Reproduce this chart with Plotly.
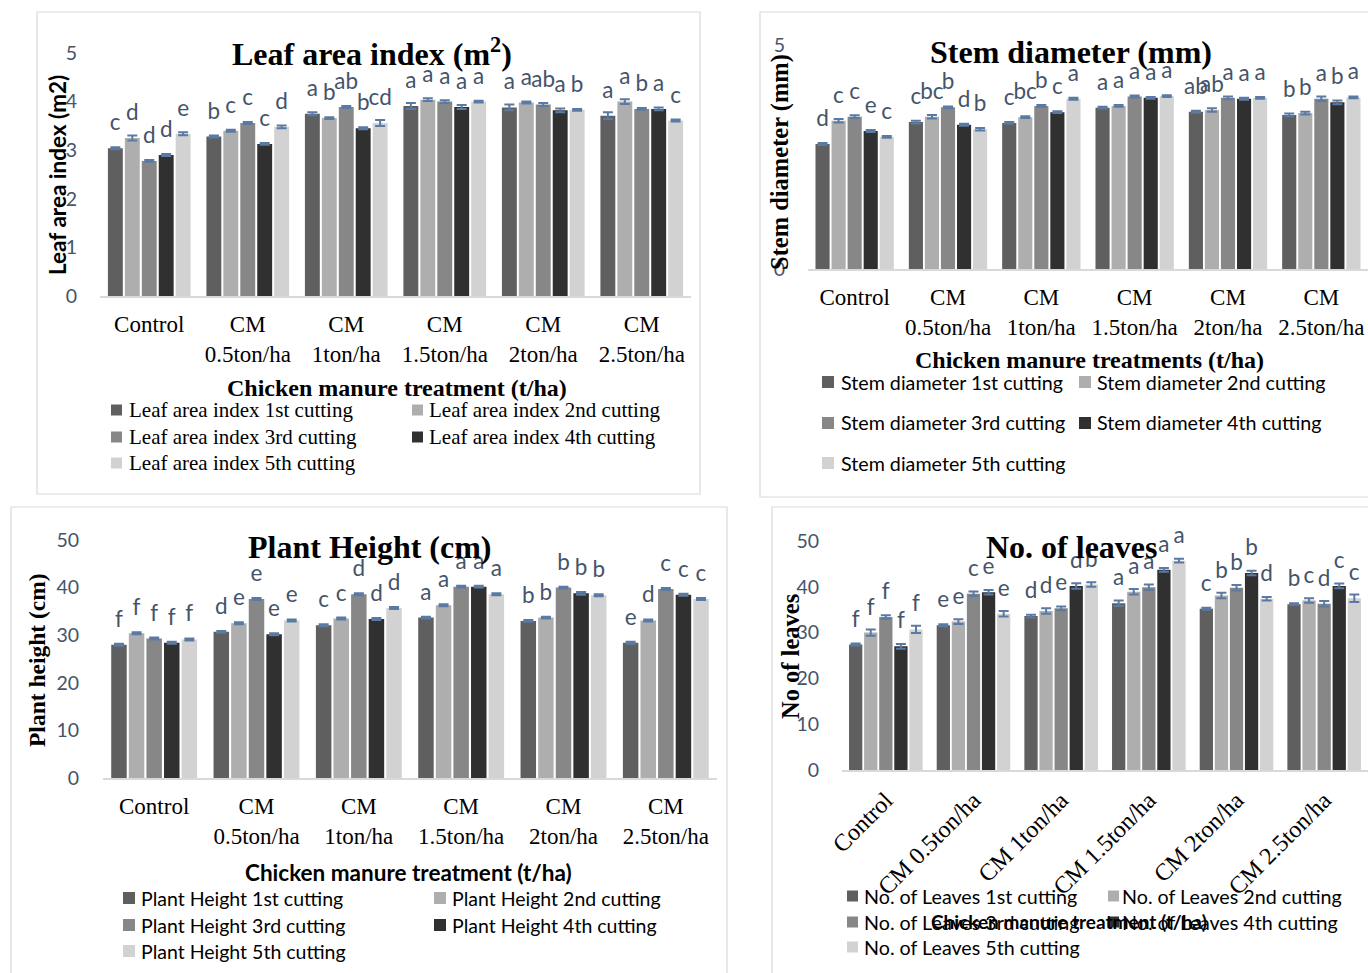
import plotly.graph_objects as go

W, H = 1368, 973

# ---------------- data ----------------
categories = ["Control", "CM 0.5ton/ha", "CM 1ton/ha", "CM 1.5ton/ha", "CM 2ton/ha", "CM 2.5ton/ha"]
tick_two_line = ["Control", "CM<br>0.5ton/ha", "CM<br>1ton/ha", "CM<br>1.5ton/ha", "CM<br>2ton/ha", "CM<br>2.5ton/ha"]
cuttings = ["1st", "2nd", "3rd", "4th", "5th"]

# Leaf area index
lai_1 = [3.04, 3.28, 3.75, 3.91, 3.88, 3.71]
lai_2 = [3.25, 3.40, 3.66, 4.04, 3.98, 4.00]
lai_3 = [2.78, 3.56, 3.89, 4.00, 3.94, 3.85]
lai_4 = [2.90, 3.13, 3.45, 3.89, 3.82, 3.85]
lai_5 = [3.34, 3.48, 3.56, 4.00, 3.83, 3.61]
lai_err_1 = [0.02, 0.02, 0.03, 0.06, 0.06, 0.07]
lai_err_2 = [0.05, 0.02, 0.02, 0.03, 0.02, 0.05]
lai_err_3 = [0.02, 0.02, 0.02, 0.03, 0.03, 0.02]
lai_err_4 = [0.02, 0.02, 0.02, 0.04, 0.04, 0.03]
lai_err_5 = [0.03, 0.03, 0.06, 0.02, 0.02, 0.02]
lai_let_1 = ["c", "b", "a", "a", "a", "a"]
lai_let_2 = ["d", "c", "b", "a", "a", "a"]
lai_let_3 = ["d", "c", "ab", "a", "ab", "b"]
lai_let_4 = ["d", "c", "b", "a", "a", "a"]
lai_let_5 = ["e", "d", "cd", "a", "b", "c"]

# Stem diameter
sd_1 = [2.79, 3.28, 3.26, 3.60, 3.51, 3.44]
sd_2 = [3.31, 3.40, 3.39, 3.64, 3.55, 3.48]
sd_3 = [3.40, 3.61, 3.64, 3.85, 3.82, 3.80]
sd_4 = [3.08, 3.22, 3.50, 3.82, 3.80, 3.72]
sd_5 = [2.95, 3.12, 3.80, 3.86, 3.82, 3.83]
sd_err_1 = [0.02, 0.03, 0.02, 0.02, 0.02, 0.03]
sd_err_2 = [0.04, 0.04, 0.02, 0.02, 0.04, 0.03]
sd_err_3 = [0.03, 0.02, 0.02, 0.02, 0.03, 0.05]
sd_err_4 = [0.02, 0.02, 0.02, 0.02, 0.02, 0.04]
sd_err_5 = [0.02, 0.03, 0.02, 0.02, 0.02, 0.02]
sd_let_1 = ["d", "c", "c", "a", "ab", "b"]
sd_let_2 = ["c", "bc", "bc", "a", "ab", "b"]
sd_let_3 = ["c", "b", "b", "a", "a", "a"]
sd_let_4 = ["e", "d", "c", "a", "a", "b"]
sd_let_5 = ["c", "b", "a", "a", "a", "a"]

# Plant height
ph_1 = [28.0, 30.7, 32.1, 33.7, 33.0, 28.4]
ph_2 = [30.4, 32.5, 33.5, 36.3, 33.7, 33.1]
ph_3 = [29.3, 37.6, 38.6, 40.2, 40.0, 39.7]
ph_4 = [28.4, 30.2, 33.4, 40.2, 38.8, 38.5]
ph_5 = [29.1, 33.1, 35.7, 38.6, 38.4, 37.6]
ph_err_1 = [0.2, 0.2, 0.2, 0.2, 0.2, 0.2]
ph_err_2 = [0.2, 0.2, 0.2, 0.2, 0.2, 0.2]
ph_err_3 = [0.2, 0.2, 0.2, 0.2, 0.2, 0.2]
ph_err_4 = [0.2, 0.2, 0.2, 0.2, 0.3, 0.2]
ph_err_5 = [0.2, 0.2, 0.2, 0.2, 0.2, 0.2]
ph_let_1 = ["f", "d", "c", "a", "b", "e"]
ph_let_2 = ["f", "e", "c", "a", "b", "d"]
ph_let_3 = ["f", "e", "d", "a", "b", "c"]
ph_let_4 = ["f", "e", "d", "a", "b", "c"]
ph_let_5 = ["f", "e", "d", "a", "b", "c"]

# Number of leaves
nl_1 = [27.4, 31.6, 33.6, 36.4, 35.2, 36.2]
nl_2 = [30.0, 32.4, 34.7, 38.9, 38.1, 37.0]
nl_3 = [33.4, 38.5, 35.3, 39.9, 39.8, 36.3]
nl_4 = [27.0, 38.8, 40.2, 43.7, 43.0, 40.2]
nl_5 = [30.7, 34.1, 40.5, 45.7, 37.4, 37.5]
nl_err_1 = [0.2, 0.2, 0.3, 0.6, 0.2, 0.2]
nl_err_2 = [0.7, 0.5, 0.6, 0.6, 0.6, 0.5]
nl_err_3 = [0.4, 0.5, 0.4, 0.6, 0.6, 0.6]
nl_err_4 = [0.5, 0.5, 0.6, 0.4, 0.5, 0.5]
nl_err_5 = [0.8, 0.6, 0.5, 0.4, 0.4, 0.8]
nl_let_1 = ["f", "e", "d", "a", "c", "b"]
nl_let_2 = ["f", "e", "d", "a", "b", "c"]
nl_let_3 = ["f", "c", "e", "a", "b", "d"]
nl_let_4 = ["f", "e", "d", "a", "b", "c"]
nl_let_5 = ["f", "e", "b", "a", "d", "c"]

# ---------------- styling ----------------
colors = ["#5f5f5f", "#aeaeae", "#878787", "#303030", "#d2d2d2"]
ERR_COLOR = "#5b7aa3"
LBL_COLOR = "#44546a"
SERIF = "Liberation Serif"
SANS = "Lato"


def px(x):
    return x / W


def py(y):
    return 1 - y / H


def letter_text(letters):
    return ["<span style='font-size:22.5px'>%s</span><br><span style='color:rgba(0,0,0,0)'>.</span>" % l
            for l in letters]


panels = [
    dict(ax="", name="Leaf area index",
         series=[lai_1, lai_2, lai_3, lai_4, lai_5],
         errs=[lai_err_1, lai_err_2, lai_err_3, lai_err_4, lai_err_5],
         lets=[lai_let_1, lai_let_2, lai_let_3, lai_let_4, lai_let_5]),
    dict(ax="2", name="Stem diameter",
         series=[sd_1, sd_2, sd_3, sd_4, sd_5],
         errs=[sd_err_1, sd_err_2, sd_err_3, sd_err_4, sd_err_5],
         lets=[sd_let_1, sd_let_2, sd_let_3, sd_let_4, sd_let_5]),
    dict(ax="3", name="Plant Height",
         series=[ph_1, ph_2, ph_3, ph_4, ph_5],
         errs=[ph_err_1, ph_err_2, ph_err_3, ph_err_4, ph_err_5],
         lets=[ph_let_1, ph_let_2, ph_let_3, ph_let_4, ph_let_5]),
    dict(ax="4", name="No. of Leaves",
         series=[nl_1, nl_2, nl_3, nl_4, nl_5],
         errs=[nl_err_1, nl_err_2, nl_err_3, nl_err_4, nl_err_5],
         lets=[nl_let_1, nl_let_2, nl_let_3, nl_let_4, nl_let_5]),
]

fig = go.Figure()
for p in panels:
    for i in range(5):
        fig.add_trace(go.Bar(
            x=categories, y=p["series"][i],
            name="%s %s cutting" % (p["name"], cuttings[i]),
            xaxis="x" + p["ax"], yaxis="y" + p["ax"],
            marker=dict(color=colors[i], line=dict(width=0)),
            error_y=dict(type="data", array=p["errs"][i], color=ERR_COLOR,
                         thickness=2, width=5),
            text=letter_text(p["lets"][i]), textposition="outside",
            textfont=dict(family=SANS, size=10, color=LBL_COLOR),
            constraintext="none", cliponaxis=False, showlegend=False,
        ))

xbase = dict(type="category", showgrid=False, zeroline=False, showline=True,
             linecolor="#d9d9d9", linewidth=1.5, ticks="", automargin=False,
             tickfont=dict(family=SERIF, size=23, color="#000000"),
             categoryorder="array", categoryarray=categories)
ybase = dict(showgrid=False, zeroline=False, showline=False, ticks="", automargin=False,
             tickfont=dict(family=SANS, size=19.5, color=LBL_COLOR))

layout = dict(
    width=W, height=H, autosize=False,
    margin=dict(l=0, r=0, t=0, b=0, pad=0, autoexpand=False),
    paper_bgcolor="white", plot_bgcolor="white",
    barmode="group", bargap=0.14, bargroupgap=0.12,
    showlegend=False,
    xaxis=dict(xbase, domain=[px(100), px(691)], anchor="y",
               tickvals=categories, ticktext=tick_two_line, ticklabelstandoff=7),
    yaxis=dict(ybase, domain=[py(296), py(53)], anchor="x", range=[0, 5], dtick=1,
               ticklabelstandoff=22),
    xaxis2=dict(xbase, domain=[px(808), 1.0], anchor="y2",
                tickvals=categories, ticktext=tick_two_line, ticklabelstandoff=7),
    yaxis2=dict(ybase, domain=[py(269), py(45)], anchor="x2", range=[0, 5], dtick=5,
                ticklabelstandoff=22),
    xaxis3=dict(xbase, domain=[px(103), px(717)], anchor="y3",
                tickvals=categories, ticktext=tick_two_line, ticklabelstandoff=7),
    yaxis3=dict(ybase, domain=[py(778), py(540)], anchor="x3", range=[0, 50], dtick=10,
                ticklabelstandoff=23),
    xaxis4=dict(xbase, domain=[px(842), 1.0], anchor="y4", tickangle=-45,
                tickfont=dict(family=SERIF, size=24, color="#000000"), ticklabelstandoff=5),
    yaxis4=dict(ybase, domain=[py(770), py(541)], anchor="x4", range=[0, 50], dtick=10,
                ticklabelstandoff=22),
)
fig.update_layout(**layout)

shapes = []
annotations = []

# panel borders
for (x0, y0, x1, y1) in [(37, 12, 700, 494), (760, 12, 1372, 497),
                         (11, 507, 727, 980), (772, 507, 1372, 980)]:
    shapes.append(dict(type="rect", xref="paper", yref="paper",
                       x0=px(x0), x1=px(x1), y0=py(y1), y1=py(y0),
                       line=dict(color="#d9d9d9", width=1.2), fillcolor="rgba(0,0,0,0)"))


def ann(text, x, y, family, size, color="#000000", angle=0, xanchor="center"):
    annotations.append(dict(text=text, x=px(x), y=py(y), xref="paper", yref="paper",
                            showarrow=False, xanchor=xanchor, yanchor="middle",
                            textangle=angle, font=dict(family=family, size=size, color=color)))


# chart titles
ann("<b>Leaf area index (m<sup>2</sup>)</b>", 372, 52, SERIF, 32)
ann("<b>Stem diameter (mm)</b>", 1071, 52, SERIF, 32)
ann("<b>Plant Height (cm)</b>", 370, 547, SERIF, 32)
ann("<b>No. of leaves</b>", 1072, 547, SERIF, 32)

# y axis titles
ann("<b>Leaf area index (m2)</b>", 57, 175, SANS, 22.5, angle=-90)
ann("<b>Stem diameter (mm)</b>", 780, 162, SERIF, 24.5, angle=-90)
ann("<b>Plant height (cm)</b>", 37, 660, SERIF, 23.5, angle=-90)
ann("<b>No of leaves</b>", 790, 657, SERIF, 24.5, angle=-90)

# x axis titles
ann("<b>Chicken manure treatment (t/ha)</b>", 397, 388, SERIF, 24)
ann("<b>Chicken manure treatments (t/ha)</b>", 1089, 360, SERIF, 24)
ann("<b>Chicken manure treatment (t/ha)</b>", 408, 872, SANS, 22.5)

# legends (manual, two columns)
legend_specs = [
    ("Leaf area index", SERIF, 21, [410, 437, 463], (111, 127), (412, 427), 11),
    ("Stem diameter", SANS, 19.7, [382, 423, 463], (822, 839), (1079, 1095), 12),
    ("Plant Height", SANS, 19.5, [898, 925, 951], (123, 139), (434, 450), 12),
    ("No. of Leaves", SANS, 19.7, [896, 922, 947], (847, 862), (1108, 1120), 11),
]
for name, fam, size, rows, c1, c2, sq in legend_specs:
    for i in range(5):
        row = rows[i // 2]
        col = c1 if i % 2 == 0 else c2
        shapes.append(dict(type="rect", xref="paper", yref="paper",
                           x0=px(col[0]), x1=px(col[0] + sq),
                           y0=py(row + sq / 2), y1=py(row - sq / 2),
                           line=dict(width=0), fillcolor=colors[i]))
        ann("%s %s cutting" % (name, cuttings[i]), col[1], row, fam, size, xanchor="left")

# x title of the last panel is drawn over its legend, as in the source
ann("<b>Chicken manure treatment (t/ha)</b>", 1069, 921, SANS, 19)

fig.update_layout(shapes=shapes, annotations=annotations)
fig.write_html("out.html")
